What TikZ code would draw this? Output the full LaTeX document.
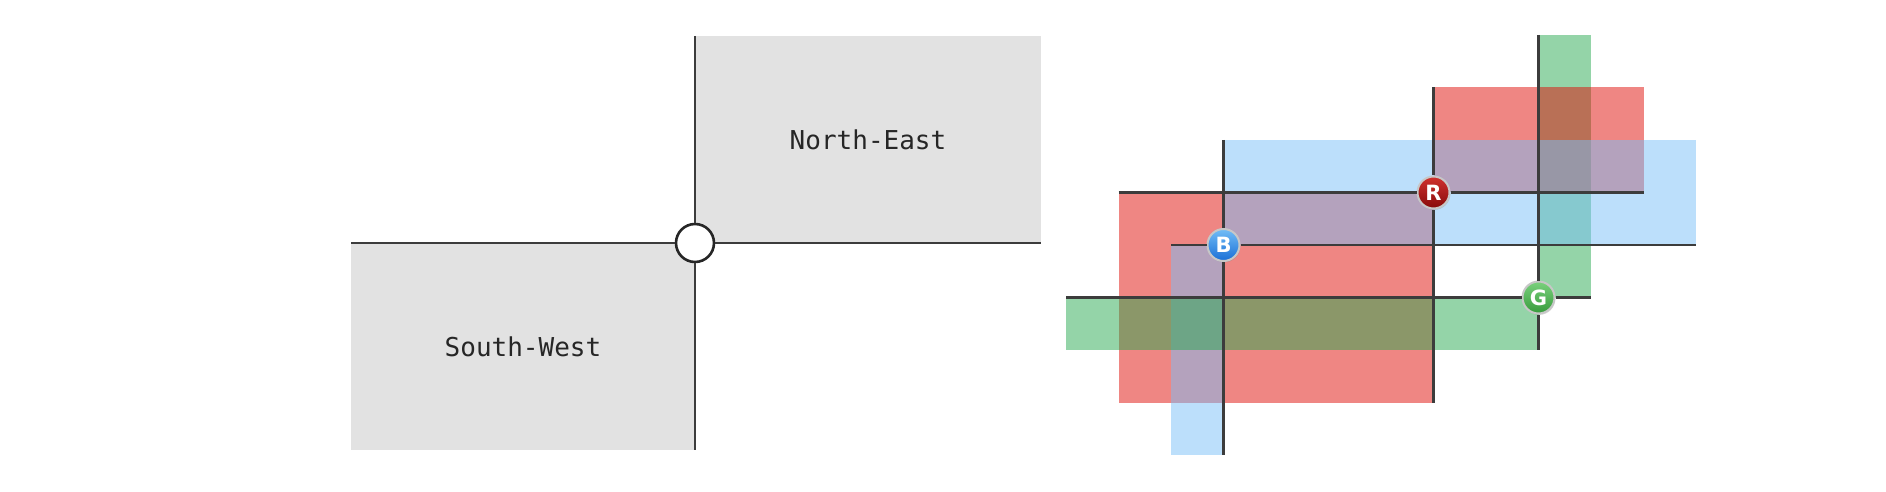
\documentclass[tikz,border=0pt]{standalone}
\usepackage{fontspec}
\newfontfamily\quadfont{DejaVu Sans Mono}
\newfontfamily\dotfont{DejaVu Sans}
\usetikzlibrary{shadows}
\definecolor{quadgray}{HTML}{E2E2E2}
\definecolor{edgegray}{HTML}{3C3C3C}
\definecolor{redfill}{RGB}{223,13,7}
\definecolor{bluefill}{RGB}{121,191,247}
\definecolor{greenfill}{RGB}{41,169,81}
\definecolor{redtop}{HTML}{D0322E}
\definecolor{redbot}{HTML}{870A0A}
\definecolor{bluetop}{HTML}{72BDF6}
\definecolor{bluebot}{HTML}{1A6FD6}
\definecolor{greentop}{HTML}{7AD17D}
\definecolor{greenbot}{HTML}{379B3C}
\tikzset{
	edge/.style={edgegray, line width=1.4pt},
	quadrant/.style={fill=quadgray},
	region/.style={fill opacity=0.5},
	cornerdot/.style={circle, minimum size=16pt, inner sep=0pt, draw=black!22,
		line width=1pt, text=white, font=\dotfont\bfseries\fontsize{10.5}{11}\selectfont,
		drop shadow={opacity=0.3, shadow xshift=0.4pt, shadow yshift=-0.7pt}},
}
\begin{document}
\begin{tikzpicture}[x=0.5pt, y=-0.5pt]
	\useasboundingbox (0,0) rectangle (1886,492);
	%% quadrants
	\fill[quadrant] (351,243) rectangle (695,450);
	\fill[quadrant] (695,36) rectangle (1041,243);
	\node[font=\quadfont\fontsize{13}{15}\selectfont, text=black!85] (ne) at (868,140) {North-East};
	\node[font=\quadfont\fontsize{13}{15}\selectfont, text=black!85] (sw) at (523,347) {South-West};
	%% axes
	\coordinate (west) at (351,243);
	\coordinate (east) at (1041,243);
	\coordinate (north) at (695,36);
	\coordinate (south) at (695,450);
	\node[circle, draw=black!85, fill=white, line width=1.3pt, minimum size=19pt, inner sep=0pt] (origin) at (695,243) {};
	\draw[edge] (west) -- (origin) -- (east);
	\draw[edge] (north) -- (origin) -- (south);
	%% overlapping rectangles
	\begin{scope}[shift={(1066,35)}, x=26.25pt, y=-26.25pt]
		%% lower-left parts
		\foreach \col/\xa/\ya/\xb/\yb in {redfill/1/3/7/7, bluefill/2/4/3/8, greenfill/0/5/9/6}
			\fill[\col, region] (\xa,\ya) rectangle (\xb,\yb);
		%% upper-right parts
		\foreach \col/\xa/\ya/\xb/\yb in {greenfill/9/0/10/5, redfill/7/1/11/3, bluefill/3/2/12/4}
			\fill[\col, region] (\xa,\ya) rectangle (\xb,\yb);
		%% corners and edges
		\foreach \lbl/\px/\py/\xa/\xb/\ya/\yb/\ct/\cb in {R/7/3/1/11/1/7/redtop/redbot,
				B/3/4/2/12/2/8/bluetop/bluebot, G/9/5/0/10/0/6/greentop/greenbot} {
			\node[cornerdot, top color=\ct, bottom color=\cb] (\lbl) at (\px,\py) {\lbl};
			\coordinate (\lbl-w) at (\xa,\py);
			\coordinate (\lbl-e) at (\xb,\py);
			\coordinate (\lbl-n) at (\px,\ya);
			\coordinate (\lbl-s) at (\px,\yb);
			\draw[edge] (\lbl-w) -- (\lbl) -- (\lbl-e);
			\draw[edge] (\lbl-n) -- (\lbl) -- (\lbl-s);
		}
	\end{scope}
\end{tikzpicture}
\end{document}
